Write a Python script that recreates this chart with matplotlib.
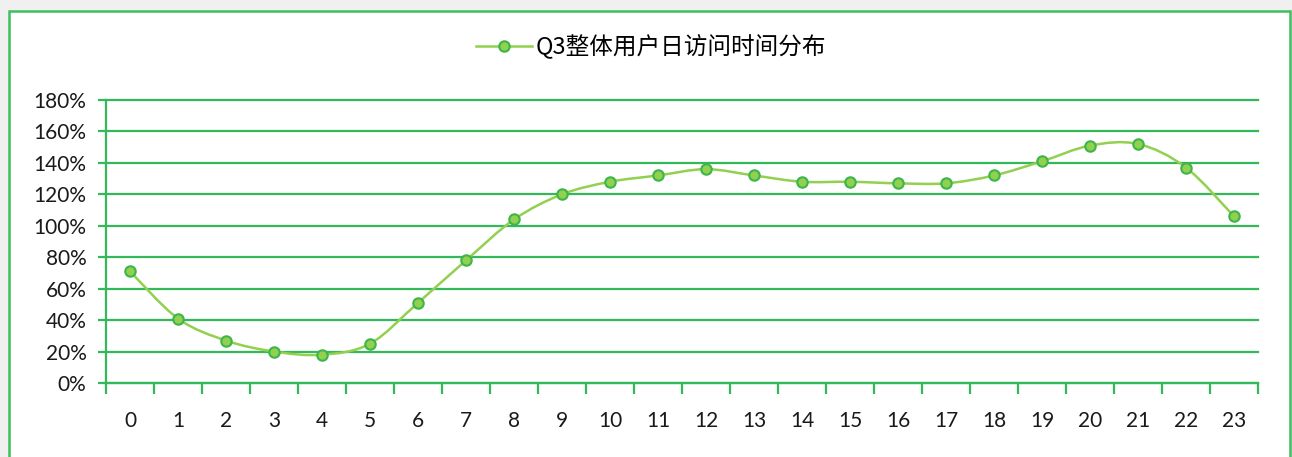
import matplotlib
matplotlib.use('Agg')
import matplotlib.pyplot as plt
from matplotlib.path import Path
from matplotlib.patches import PathPatch, Rectangle
from matplotlib.lines import Line2D
from matplotlib.ticker import PercentFormatter, MultipleLocator, FixedLocator

plt.rcParams['font.family'] = ['Noto Sans CJK SC', 'DejaVu Sans']

hours = list(range(24))
visits = [0.71, 0.41, 0.27, 0.20, 0.18, 0.25, 0.51, 0.78, 1.04, 1.20,
          1.28, 1.32, 1.36, 1.32, 1.28, 1.28, 1.27, 1.27, 1.32, 1.41,
          1.51, 1.52, 1.37, 1.06]
series_name = 'Q3整体用户日访问时间分布'

grid_c = '#33b85a'
line_c = '#92d050'
edge_c = '#3cb54a'

W, H = 1292, 457
fig = plt.figure(figsize=(W / 100, H / 100), dpi=100)
fig.patch.set_facecolor('#f0f0f0')
fig.patches.append(Rectangle((9 / W, -0.1), (1290 - 9) / W, 1.1 - 11 / H,
                             transform=fig.transFigure, facecolor='white',
                             edgecolor='#3dbf5f', linewidth=1.8, zorder=-1))

ax = fig.add_axes([106 / W, 74 / H, (1258 - 106) / W, 283 / H])
ax.set_facecolor('none')

# excel-style smoothed line (bezier through the points)
verts = [(hours[0], visits[0])]
codes = [Path.MOVETO]
n = len(hours)
for i in range(n - 1):
    p0 = (hours[max(i - 1, 0)], visits[max(i - 1, 0)])
    p1 = (hours[i], visits[i])
    p2 = (hours[i + 1], visits[i + 1])
    p3 = (hours[min(i + 2, n - 1)], visits[min(i + 2, n - 1)])
    c1 = (p1[0] + (p2[0] - p0[0]) / 6, p1[1] + (p2[1] - p0[1]) / 6)
    c2 = (p2[0] - (p3[0] - p1[0]) / 6, p2[1] - (p3[1] - p1[1]) / 6)
    verts += [c1, c2, p2]
    codes += [Path.CURVE4] * 3
ax.add_patch(PathPatch(Path(verts, codes), fill=False, edgecolor=line_c,
                       linewidth=1.8, zorder=3, capstyle='round'))
ax.plot(hours, visits, linestyle='none', marker='o', markersize=7.5,
        markerfacecolor=line_c, markeredgecolor=edge_c, markeredgewidth=1.5,
        zorder=4)

ax.set_xlim(-0.5, 23.5)
ax.set_ylim(0, 1.8)
ax.yaxis.set_major_locator(MultipleLocator(0.2))
ax.yaxis.set_major_formatter(PercentFormatter(1.0, decimals=0))
ax.set_xticks(hours)
ax.set_xticklabels([str(h) for h in hours])
ax.xaxis.set_minor_locator(FixedLocator([h - 0.5 for h in hours] + [23.5]))

ax.grid(axis='y', color=grid_c, linewidth=1.6, zorder=1)
for gl in ax.get_ygridlines():
    gl.set_clip_on(False)
for s in ['top', 'right']:
    ax.spines[s].set_visible(False)
for s in ['left', 'bottom']:
    ax.spines[s].set_color(grid_c)
    ax.spines[s].set_linewidth(1.6)
ax.tick_params(axis='y', length=6, width=1.6, color=grid_c, pad=8,
               labelsize=15, labelcolor='#1a1a1a')
ax.tick_params(axis='x', which='major', length=0, pad=20,
               labelsize=15, labelcolor='#1a1a1a')
ax.tick_params(axis='x', which='minor', length=8, width=1.6, color=grid_c)
for lbl in ax.get_xticklabels() + ax.get_yticklabels():
    lbl.set_family('Lato')

handle = Line2D([], [], color=line_c, linewidth=1.8, marker='o', markersize=7.5,
                markerfacecolor=line_c, markeredgecolor=edge_c, markeredgewidth=1.5)
fig.legend([handle], [series_name], loc='center',
           bbox_to_anchor=(651 / W, 1 - 47 / H), frameon=False,
           fontsize=17, handlelength=2.4, handletextpad=0.15)

fig.savefig('out.png', dpi=100, facecolor=fig.get_facecolor())
